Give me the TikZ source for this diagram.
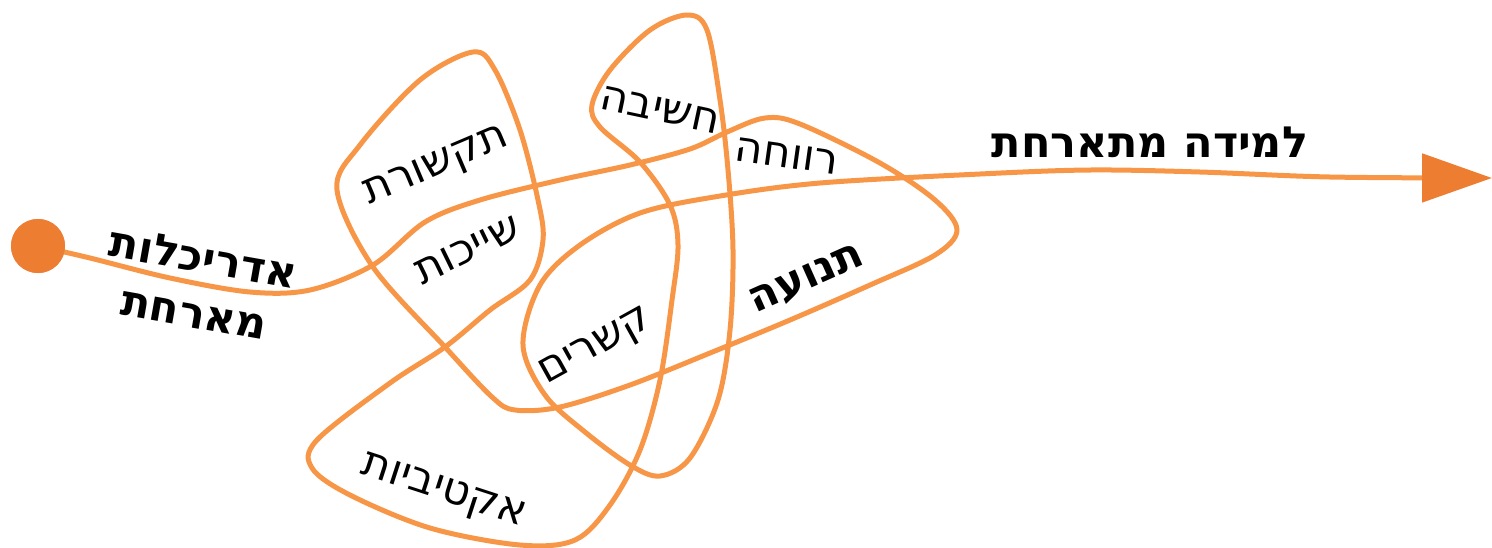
\documentclass[tikz,border=0pt]{standalone}
\usepackage{fontspec}
\newfontfamily\hebfont[Script=Hebrew]{DejaVu Sans}
\TeXXeTstate=1
\usetikzlibrary{arrows.meta}
\definecolor{trailorange}{HTML}{F79646}
\definecolor{dotorange}{HTML}{ED7D31}
\tikzset{
  word/.style={font=\hebfont\fontsize{21.5}{28}\selectfont, inner sep=0pt},
  boldword/.style={word, font=\hebfont\bfseries\fontsize{21.5}{28}\selectfont},
  trail/.style={trailorange, line width=2.5pt, line cap=round, line join=round},
}
\begin{document}
\begin{tikzpicture}[x=0.5pt,y=-0.5pt]
\useasboundingbox (0,0) rectangle (1492,547);

\node[circle, fill=dotorange, minimum size=27pt, inner sep=0pt] (start) at (38,246) {};
\coordinate (tip) at (1492,178);

\draw[trail, -{Triangle[length=35pt,width=24pt,color=dotorange]}]
  plot[smooth, tension=0.55] coordinates {
  (start) (90,258) (170,278) (250,292) (310,290) (373,265) (425,222)
  (480,200) (560,180) (630,165) (690,149) (727,132) (765,118) (800,124)
  (880,163) (935,200) (957,230) (935,255) (870,285) (790,320) (710,353)
  (630,385) (560,407) (515,410) (492,397) (445,347) (373,267) (337,190)
  (360,145) (420,80) (473,52) (495,70) (520,130) (538,200) (543,240)
  (530,280) (490,310) (445,347) (390,383) (317,440) (312,468) (350,495)
  (430,528) (520,545) (575,540) (610,505) (640,450) (660,380) (672,300)
  (678,245) (670,205) (640,162) (600,127) (592,105) (610,70) (650,30)
  (687,15) (707,30) (720,100) (728,170) (733,250) (730,330) (718,400)
  (690,458) (660,476) (630,465) (585,432) (545,395) (523,345) (540,285)
  (580,245) (640,213) (720,196) (820,183) (980,174) (1090,170) (1200,172)
  (1330,177) (tip)};
\node[circle, fill=dotorange, minimum size=27pt, inner sep=0pt] at (start) {};

\node[boldword, align=center, rotate=-10] (host) at (199,285)
  {\beginR אדריכלות\endR\\\beginR מארחת\endR};
\node[word, rotate=23] (comm) at (437,168) {\beginR תקשורת\endR};
\node[word, rotate=26] (belong) at (468,250) {\beginR שייכות\endR};
\node[word, rotate=-12] (think) at (660,110) {\beginR חשיבה\endR};
\node[word, rotate=-8] (wellbeing) at (787,156) {\beginR רווחה\endR};
\node[word, rotate=29] (links) at (597,348) {\beginR קשרים\endR};
\node[boldword, rotate=24] (motion) at (807,280) {\beginR תנועה\endR};
\node[word, rotate=-18] (activity) at (443,493) {\beginR אקטיביות\endR};
\node[boldword] (learning) at (1150,142) {\beginR למידה מתארחת\endR};
\end{tikzpicture}
\end{document}
